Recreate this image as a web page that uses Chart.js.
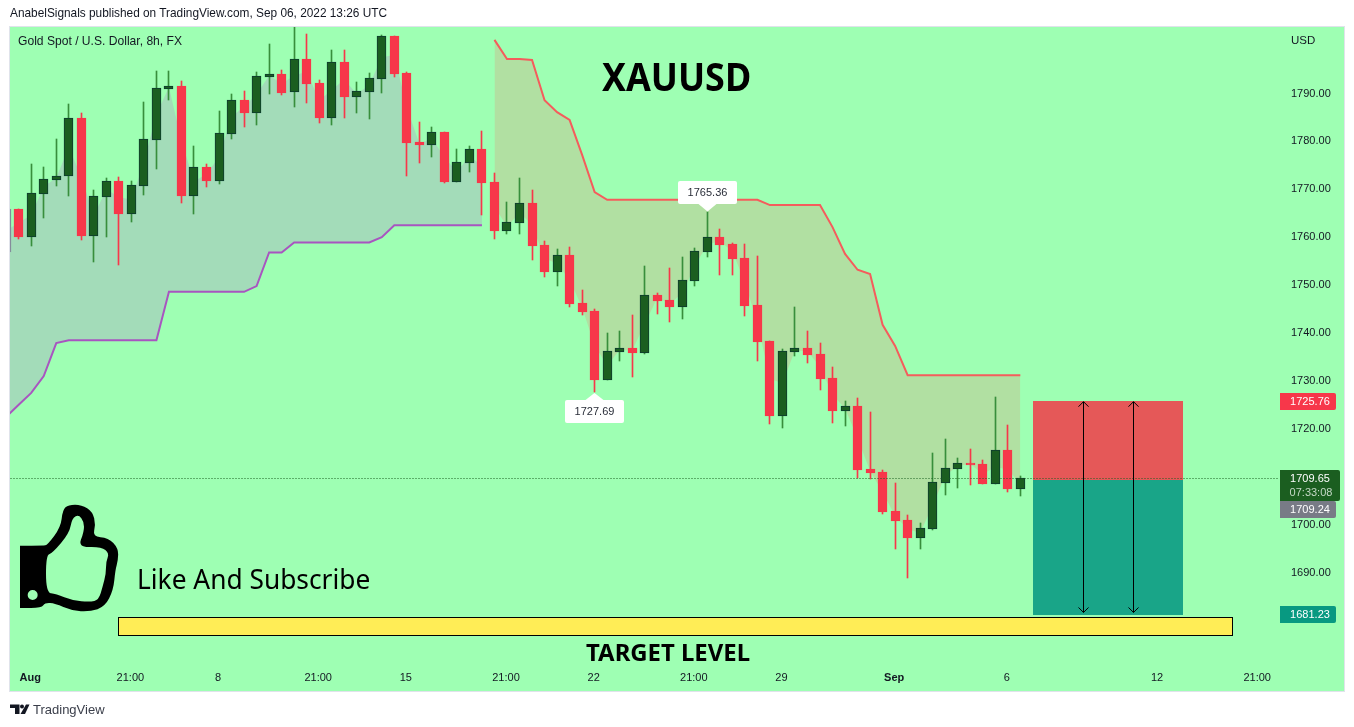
<!DOCTYPE html>
<html><head><meta charset="utf-8">
<style>
html,body{margin:0;padding:0;background:#fff;width:1354px;height:727px;overflow:hidden}
canvas{position:absolute;left:0;top:0}
.t{position:absolute;white-space:nowrap;line-height:1;color:#131722;font-family:"Noto Sans",sans-serif;transform-origin:0 0}
</style>
<script src="https://cdn.jsdelivr.net/npm/chart.js@4/dist/chart.umd.js"></script>
</head><body>
<canvas id="c" width="1354" height="727"></canvas>
<div class="t" style="left:10px;top:8px;font-size:11.85px;font-family:'Liberation Sans'">AnabelSignals published on TradingView.com, Sep 06, 2022 13:26 UTC</div>
<div class="t" style="left:18px;top:35px;font-size:12.1px;font-family:'Liberation Sans'">Gold Spot / U.S. Dollar, 8h, FX</div>
<div class="t" style="left:1291px;top:35px;font-size:11.5px;font-family:'Liberation Sans'">USD</div>
<div class="t" style="left:602px;top:56px;font-size:40px;font-weight:700;color:#000;transform:scaleX(.897)">XAUUSD</div>
<div class="t" style="left:137px;top:565px;font-size:27px;color:#000;transform:scaleX(.975)">Like And Subscribe</div>
<div class="t" style="left:586px;top:640px;font-size:23.9px;font-weight:700;color:#000;">TARGET LEVEL</div>
<div class="t" style="left:33px;top:703px;font-size:13px;color:#3a3e4a;font-family:'Liberation Sans'">TradingView</div>
<script>
// candle index of each entry starts at -1 (first candle is cut by the left edge)
const opens = [1765.9,1765.88,1760.11,1769.08,1772.01,1772.70,1784.88,1760.32,1768.46,1771.73,1764.91,1770.75,1780.36,1791.00,1791.56,1768.67,1774.65,1771.80,1781.61,1788.64,1785.99,1793.51,1794.07,1790.24,1797.20,1792.19,1784.95,1796.57,1789.33,1790.38,1793.09,1802.00,1794.28,1779.87,1779.31,1781.96,1771.59,1775.56,1778.41,1771.52,1761.36,1763.03,1767.14,1758.37,1752.81,1756.28,1746.26,1744.59,1730.26,1736.10,1736.87,1735.90,1747.93,1746.89,1745.50,1750.93,1756.98,1760.04,1758.58,1755.66,1745.85,1738.33,1722.67,1736.03,1736.87,1735.62,1730.61,1723.79,1724.76,1711.61,1710.98,1702.84,1700.96,1697.27,1699.15,1708.76,1711.68,1712.86,1712.65,1708.55,1715.57,1707.50];
const closes = [1756.9,1760.11,1769.15,1772.08,1772.70,1784.81,1760.32,1768.53,1771.66,1764.91,1770.82,1780.43,1791.07,1791.56,1768.67,1774.58,1771.73,1781.68,1788.57,1785.92,1793.58,1794.00,1790.10,1797.13,1791.98,1784.88,1796.50,1789.26,1790.45,1793.16,1802.00,1794.07,1779.66,1779.24,1781.89,1771.52,1775.63,1778.34,1771.31,1761.29,1763.10,1767.07,1758.16,1752.74,1756.22,1746.06,1744.38,1730.19,1736.17,1736.80,1735.83,1747.86,1746.68,1745.43,1751.00,1757.05,1759.97,1758.37,1755.45,1745.64,1738.12,1722.67,1736.24,1736.80,1735.41,1730.40,1723.72,1724.69,1711.40,1710.77,1702.63,1700.75,1697.20,1699.22,1708.82,1711.75,1712.79,1712.44,1708.48,1715.51,1707.43,1709.65];
const highs  = [1765.9,1765.88,1775.28,1774.65,1780.50,1787.80,1785.86,1769.85,1772.35,1772.56,1771.66,1788.22,1794.69,1794.69,1792.61,1779.04,1775.28,1786.34,1789.89,1790.52,1794.48,1800.33,1794.90,1804.50,1802.42,1792.81,1799.08,1799.08,1792.40,1794.28,1802.21,1802.00,1794.48,1784.05,1783.00,1781.96,1778.41,1779.04,1782.17,1773.40,1767.35,1772.36,1769.85,1759.21,1757.54,1757.95,1748.98,1745.01,1740.00,1740.42,1743.76,1753.99,1748.35,1753.57,1755.87,1757.75,1765.36,1761.71,1758.79,1758.58,1756.08,1738.33,1736.66,1745.43,1740.42,1737.91,1732.90,1725.80,1726.43,1723.51,1711.40,1708.69,1702.00,1700.33,1714.95,1717.87,1713.90,1715.78,1713.49,1726.64,1720.79,1710.15];
const lows   = [1756.9,1759.62,1758.16,1764.00,1770.75,1768.60,1759.41,1754.82,1760.04,1754.19,1763.17,1768.81,1774.23,1788.64,1767.14,1764.84,1770.48,1771.10,1780.50,1783.00,1783.42,1789.89,1789.68,1787.18,1788.01,1783.84,1783.42,1784.88,1785.92,1784.67,1790.10,1793.44,1772.77,1775.49,1776.74,1771.31,1771.59,1773.61,1764.63,1759.62,1760.67,1760.67,1755.24,1751.69,1749.81,1745.43,1743.76,1727.69,1730.26,1734.16,1730.82,1735.62,1743.97,1742.30,1742.92,1749.81,1755.87,1752.11,1752.11,1743.55,1734.16,1721.00,1720.17,1735.20,1733.74,1728.10,1721.21,1720.59,1709.73,1709.52,1702.21,1694.91,1688.85,1694.91,1698.87,1706.18,1707.64,1708.27,1708.48,1708.55,1706.81,1705.97];
const firstIndex = -1;
// supertrend: up-trend runs over candle indices -1..37, down-trend over 38..80
const upTrend = [1722.5,1725.0,1727.5,1731.0,1737.9,1738.5,1738.5,1738.5,1738.5,1738.5,1738.5,1738.5,1738.5,1748.6,1748.6,1748.6,1748.6,1748.6,1748.6,1748.6,1749.8,1756.8,1756.8,1758.9,1758.9,1758.9,1758.9,1758.9,1758.9,1758.9,1760.0,1762.5,1762.5,1762.5,1762.5,1762.5,1762.5,1762.5,1762.5];
const downTrend = [1801.2,1797.2,1797.2,1797.0,1788.6,1786.1,1784.5,1777.2,1769.4,1767.8,1767.8,1767.8,1767.8,1767.8,1767.8,1767.8,1767.8,1767.8,1767.8,1767.8,1767.8,1767.8,1766.7,1766.7,1766.7,1766.7,1766.7,1762.1,1756.5,1753.2,1752.3,1741.7,1737.3,1731.2,1731.2,1731.2,1731.2,1731.2,1731.2,1731.2,1731.2,1731.2,1731.2];
const downStart = 38;
const priceTicks = [1680,1690,1700,1710,1720,1730,1740,1750,1760,1770,1780,1790];
const timeTickIndex = [1,9,16,24,31,39,46,54,61,70,79,91,99];
const timeTickLabels = ["Aug","21:00","8","21:00","15","21:00","22","21:00","29","Sep","6","12","21:00"];
const boldTimeLabels = ["Aug","Sep"];
const stopPrice = 1725.76, entryPrice = 1709.24, lastPrice = 1709.65, targetPrice = 1681.23;
const countdown = "07:33:08";
const zoneIndex = [81,93];
const arrowIndex = [85,89];
const yellowBand = {index:[7.93,97],price:[1680.7,1676.7]};
const peakLabel = 1765.36, peakIndex = 55, troughLabel = 1727.69, troughIndex = 46;
const xRange = [-0.695,100.66], yRange = [1671.1,1803.88];

const idx = opens.map((_,k)=>k+firstIndex);
const up = k => closes[k] >= opens[k];
const GREEN='#1b5e20', GREENB='#0d3b2e', GREENW='#388e3c', RED='#f7374a', EDGE='#858c9c';
const mid = opens.map((o,k)=>(o+closes[k])/2);
const pts = (arr,start)=>arr.map((v,k)=>({x:start+k,y:v}));
const midUp = mid.slice(0,upTrend.length), midDown = mid.slice(downStart-firstIndex);

const F = '"Liberation Sans",sans-serif';
const snap = {id:'snap',beforeDatasetsDraw(ch){
  ch.data.datasets.forEach((d,i)=>{
    if(!d.snap) return;
    ch.getDatasetMeta(i).data.forEach(el=>{
      el.x=Math.floor(el.x)+.5;
      if(d.type==='line'){el.y=Math.floor(el.y)+.5;}
      else{el.y=Math.round(el.y);el.base=Math.round(el.base);}
    });
  });
}};
// smooth closed outline through the midpoints of the given corners
function smooth(p,a){
  const m=(u,v)=>[(u[0]+v[0])/2,(u[1]+v[1])/2],n=a.length;
  const s=m(a[n-1],a[0]);p.moveTo(s[0],s[1]);
  a.forEach((c,k)=>{const e=m(c,a[(k+1)%n]);p.quadraticCurveTo(c[0],c[1],e[0],e[1]);});
  p.closePath();
}
const panel = {id:'panel',
 beforeDraw(ch){const c=ch.ctx;c.save();c.fillStyle='#fff';c.fillRect(0,0,1354,727);
   c.fillStyle='#e0e3eb';c.fillRect(9,26,1336,666);
   c.fillStyle='#9effb3';c.fillRect(10,27,1334,664);c.restore();},
 beforeDatasetsDraw(ch){
   const c=ch.ctx,X=ch.scales.x,Y=ch.scales.y;const px=v=>Math.round(X.getPixelForValue(v)),py=v=>Math.round(Y.getPixelForValue(v));
   c.save();
   const l=px(zoneIndex[0]),r=px(zoneIndex[1]);
   c.fillStyle='#e55858';c.fillRect(l,py(stopPrice),r-l,py(entryPrice)-py(stopPrice));
   c.fillStyle='#19a588';c.fillRect(l,py(entryPrice),r-l,py(targetPrice)-py(entryPrice)+1);
   const yl=px(yellowBand.index[0]),yr=px(yellowBand.index[1]),yt=py(yellowBand.price[0]),yb=py(yellowBand.price[1]);
   c.fillStyle='#ffed56';c.fillRect(yl,yt,yr-yl,yb-yt);
   c.strokeStyle='#000';c.lineWidth=1;c.strokeRect(yl+.5,yt+.5,yr-yl-1,yb-yt-1);
   c.restore();},
 afterDatasetsDraw(ch){
   const c=ch.ctx,X=ch.scales.x,Y=ch.scales.y;
   c.save();c.strokeStyle='#000';c.lineWidth=1;
   arrowIndex.forEach(a=>{const x=Math.round(X.getPixelForValue(a))+.5,t=Y.getPixelForValue(stopPrice)+.5,b=Y.getPixelForValue(targetPrice)-2;
     c.beginPath();c.moveTo(x,t);c.lineTo(x,b);
     c.moveTo(x-5,t+5);c.lineTo(x,t);c.lineTo(x+5,t+5);
     c.moveTo(x-5,b-5);c.lineTo(x,b);c.lineTo(x+5,b-5);c.stroke();});
   c.restore();
 },
 afterDraw(ch){
   const c=ch.ctx,X=ch.scales.x,Y=ch.scales.y;c.save();
   c.font='11px '+F;c.textAlign='center';c.textBaseline='middle';
   const box=(y,h,w,bg)=>{c.fillStyle=bg;c.beginPath();c.roundRect(1280,y,w,h,[0,2,2,0]);c.fill();};
   const badge=(val,bg)=>{const y=Math.round(Y.getPixelForValue(val));box(y-8,17,56,bg);c.fillStyle='#fff';c.fillText(val.toFixed(2),1310,y+.5);};
   badge(stopPrice,'#f7374a');
   const ly=Math.round(Y.getPixelForValue(lastPrice));
   box(ly-8,31,60,GREEN);
   c.fillStyle='#fff';c.fillText(lastPrice.toFixed(2),1310,ly+.5);
   c.fillStyle='#c4d8c6';c.fillText(countdown,1311,ly+15);
   box(ly+23,17,56,'#787b86');
   c.fillStyle='#fff';c.fillText(entryPrice.toFixed(2),1310,ly+31.5);
   badge(targetPrice,'#089981');
   // high / low callouts
   const callout=(val,i,dir)=>{const x=Math.floor(X.getPixelForValue(i))+.5,y=Y.getPixelForValue(val);
     const ty=y+(dir>0?0:1), by=Math.round(dir>0?ty-31:ty+7), h=23;
     c.fillStyle='#fff';c.beginPath();
     c.moveTo(x,ty);c.lineTo(x-9,dir>0?by+h:by);c.lineTo(x+9,dir>0?by+h:by);c.closePath();c.fill();
     c.beginPath();c.roundRect(x-29.5,by,59,h,2);c.fill();
     c.fillStyle='#2a2e39';c.fillText(val.toFixed(2),x,by+h/2+.5);};
   callout(peakLabel,peakIndex,1);callout(troughLabel,troughIndex,-1);
   // thumb icon
   const P=(a)=>a.map(([x,y])=>[x/3,490+y/3]);
   const outer=P([[60,167],[60,167],[130,167],[142,165],[182,112],[188,60],[205,44],[245,44],[278,65],[287,105],[278,140],[325,143],[355,175],[354,212],[346,240],[340,300],[315,350],[270,365],[215,362],[165,340],[135,338],[125,354],[60,354],[60,354],[60,250]]);
   const inner=P([[138,196],[157,190],[208,130],[216,85],[236,74],[252,95],[252,125],[234,172],[304,170],[328,190],[318,215],[318,250],[308,290],[296,330],[270,336],[218,332],[168,312],[138,308]]);
   const pth=new Path2D();
   smooth(pth,outer);smooth(pth,inner);
   pth.moveTo(98/3+5,490+315/3);pth.arc(98/3,490+315/3,5,0,Math.PI*2);
   c.fillStyle='#000';c.fill(pth,'evenodd');
   // TradingView logo
   c.fillStyle='#131722';
   c.beginPath();c.moveTo(10,704.5);c.lineTo(19.5,704.5);c.lineTo(19.5,714);c.lineTo(15,714);c.lineTo(15,708);c.lineTo(10,708);c.closePath();c.fill();
   c.beginPath();c.arc(22,706.5,2,0,Math.PI*2);c.fill();
   c.beginPath();c.moveTo(26,704.5);c.lineTo(29.5,704.5);c.lineTo(25,714);c.lineTo(20.5,714);c.closePath();c.fill();
   c.restore();
 }};

new Chart(document.getElementById('c'),{
  type:'bar',
  plugins:[snap,panel],
  data:{datasets:[
    {type:'line',data:pts(midUp,firstIndex),borderWidth:0,pointRadius:0,fill:false,order:30},
    {type:'line',data:pts(upTrend,firstIndex),borderColor:'#a855c0',borderWidth:2,pointRadius:0,tension:0,
     fill:{target:0,above:'#a3dcb9',below:'#a3dcb9'},order:29},
    {type:'line',data:pts(midDown,downStart),borderWidth:0,pointRadius:0,fill:false,order:28},
    {type:'line',data:pts(downTrend,downStart),borderColor:'#f55c5c',borderWidth:2,pointRadius:0,tension:0,
     fill:{target:2,above:'#b1e0a2',below:'#b1e0a2'},order:27},
    {label:'wicks',snap:true,data:idx.map((x,k)=>({x,y:[lows[k],highs[k]]})),maxBarThickness:1,grouped:false,barPercentage:1,categoryPercentage:1,
     backgroundColor:c=>c.dataIndex===0?EDGE:(up(c.dataIndex)?GREENW:RED),order:10},
    {label:'bodies',snap:true,data:idx.map((x,k)=>({x,y:[opens[k],closes[k]]})),maxBarThickness:9,grouped:false,barPercentage:1,categoryPercentage:1,
     backgroundColor:c=>c.dataIndex===0?EDGE:(up(c.dataIndex)?GREEN:RED),
     borderColor:c=>c.dataIndex===0?EDGE:(up(c.dataIndex)?GREENB:RED),borderWidth:1,borderSkipped:false,order:9},
    {type:'line',snap:true,data:[{x:xRange[0],y:lastPrice},{x:xRange[1],y:lastPrice}],borderColor:GREEN,borderWidth:1,borderDash:[1,2],pointRadius:0,fill:false,order:1}
  ]},
  options:{
    responsive:false,animation:false,devicePixelRatio:1,
    layout:{padding:{left:10,right:10,top:27,bottom:36}},
    plugins:{legend:{display:false},tooltip:{enabled:false},title:{display:false}},
    scales:{
      x:{type:'linear',offset:false,min:xRange[0],max:xRange[1],grid:{display:false,drawTicks:false},border:{display:false},
        afterBuildTicks(s){s.ticks=timeTickIndex.map(v=>({value:v}));},
        afterFit(s){s.height=28;},
        ticks:{autoSkip:false,maxRotation:0,minRotation:0,padding:8,color:'#131722',labelOffset:-1,
          font:c=>({family:F,size:11,weight:boldTimeLabels.includes(c.tick&&c.tick.label)?'bold':'normal'}),
          callback:v=>{const k=timeTickIndex.indexOf(v);return k<0?'':timeTickLabels[k];}}},
      y:{type:'linear',position:'right',min:yRange[0],max:yRange[1],grid:{display:false,drawTicks:false},border:{display:false},
        afterBuildTicks(s){s.ticks=priceTicks.map(v=>({value:v}));},
        afterFit(s){s.width=65;},
        ticks:{padding:12,color:'#131722',font:{family:F,size:11},callback:v=>v.toFixed(2)}}
    }
  }
});
</script>
</body></html>
